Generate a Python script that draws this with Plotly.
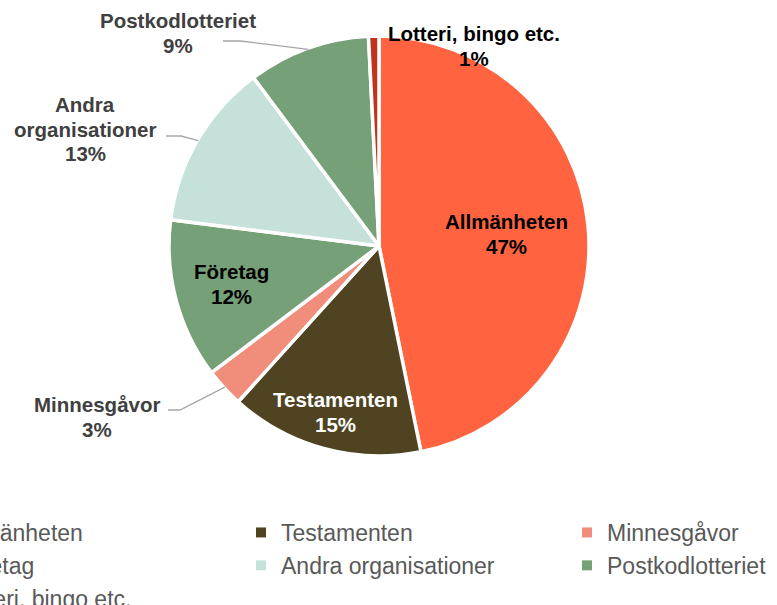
import math
import plotly.graph_objects as go

# ---------------- data ----------------
categories = ["Allmänheten", "Testamenten", "Minnesgåvor", "Företag",
              "Andra organisationer", "Postkodlotteriet", "Lotteri, bingo etc."]
shares = [46.8, 14.9, 3.0, 12.3, 12.8, 9.4, 0.8]
label_lines = [["Allmänheten"], ["Testamenten"], ["Minnesgåvor"], ["Företag"],
               ["Andra", "organisationer"], ["Postkodlotteriet"], ["Lotteri, bingo etc."]]

# ---------------- styles ----------------
colors = ["#FF6340", "#4F4321", "#F08D7B", "#76A078", "#C6E1D9", "#76A078", "#C0341D"]
label_colors = ["#000000", "#FFFFFF", "#404040", "#000000", "#404040", "#404040", "#000000"]
W, H = 777, 605
CX, CY, R = 379, 246, 210
FONT = "Liberation Sans, Arial, sans-serif"

# label block centres (px) and leader line (end, elbow) in px
label_pos = {
    "Allmänheten": (506, 234),
    "Testamenten": (335, 412),
    "Minnesgåvor": (97, 417),
    "Företag": (231, 284),
    "Andra organisationer": (85, 129),
    "Postkodlotteriet": (178, 33),
    "Lotteri, bingo etc.": (474, 46),
}
leaders = {
    "Minnesgåvor": ((168, 410), (180, 410)),
    "Andra organisationer": ((166, 136), (181, 136)),
    "Postkodlotteriet": ((223, 41), (240, 41)),
}
legend_cols = [[0, 3, 6], [1, 4], [2, 5]]
legend_x_px = [-85, 241, 567]
legend_top_px = 511


def px(x):
    return x / W


def py(y):
    return 1 - y / H


fig = go.Figure()
fig.add_trace(go.Pie(
    labels=categories, values=shares, sort=False, direction="clockwise", rotation=0,
    marker=dict(colors=colors, line=dict(color="white", width=3.5)),
    textinfo="none", hoverinfo="label+percent", showlegend=False,
    domain=dict(x=[px(CX - R), px(CX + R)], y=[py(CY + R), py(CY - R)]),
))

# legend entries (three columns as three legends)
for li, col in enumerate(legend_cols):
    lname = "legend" if li == 0 else f"legend{li + 1}"
    for idx in col:
        fig.add_trace(go.Scatter(
            x=[None], y=[None], mode="markers", name=categories[idx],
            marker=dict(symbol="square", size=10, color=colors[idx]),
            legend=lname, showlegend=True, hoverinfo="skip",
        ))

total = sum(shares)
annotations = []
shapes = []
cum = 0.0
for cat, v, lines, lc in zip(categories, shares, label_lines, label_colors):
    mid = (cum + v / 2) / total * 2 * math.pi
    cum += v
    pct = f"{round(v / total * 100)}%"
    all_lines = lines + [pct]
    bx, by = label_pos[cat]
    n = len(all_lines)
    for i, t in enumerate(all_lines):
        yy = by + (i - (n - 1) / 2) * 25
        annotations.append(dict(
            x=px(bx), y=py(yy), xref="paper", yref="paper", text=f"<b>{t}</b>",
            showarrow=False, xanchor="center", yanchor="middle",
            font=dict(family=FONT, size=20.5, color=lc),
        ))
    if cat in leaders:
        (ex, ey), (kx, ky) = leaders[cat]
        sx = CX + (R - 1) * math.sin(mid)
        sy = CY - (R - 1) * math.cos(mid)
        shapes.append(dict(
            type="path", xref="paper", yref="paper",
            path=f"M {px(ex)},{py(ey)} L {px(kx)},{py(ky)} L {px(sx)},{py(sy)}",
            line=dict(color="#A6A6A6", width=1.3),
        ))

legend_common = dict(
    orientation="v", xanchor="left", yanchor="top", bgcolor="rgba(0,0,0,0)",
    font=dict(family=FONT, size=23, color="#595959"), xref="paper", yref="paper",
)
fig.update_layout(
    width=W, height=H,
    margin=dict(l=0, r=0, t=0, b=0, autoexpand=False),
    paper_bgcolor="white", plot_bgcolor="white",
    xaxis=dict(visible=False), yaxis=dict(visible=False),
    annotations=annotations, shapes=shapes,
    legend=dict(x=px(legend_x_px[0]), y=py(legend_top_px), **legend_common),
    legend2=dict(x=px(legend_x_px[1]), y=py(legend_top_px), **legend_common),
    legend3=dict(x=px(legend_x_px[2]), y=py(legend_top_px), **legend_common),
)

fig.write_html("out.html", config={"displayModeBar": False},
               post_script="document.body.style.margin='0';document.body.style.overflow='hidden';")
